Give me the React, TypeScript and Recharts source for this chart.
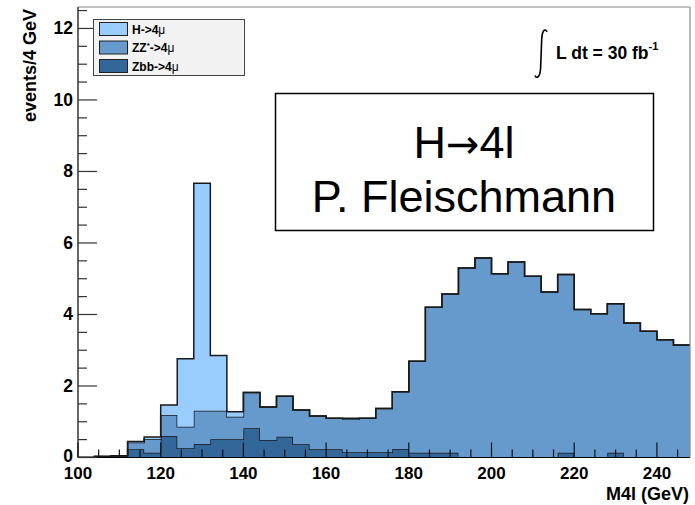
import React from "react";
import { AreaChart, Area, XAxis, YAxis, ReferenceLine, Legend } from "recharts";

// Bin edges (GeV), 4 GeV bins
const binEdges = [100, 104, 108, 112, 116, 120, 124, 128, 132, 136, 140, 144, 148, 152, 156, 160, 164, 168, 172, 176, 180, 184, 188, 192, 196, 200, 204, 208, 212, 216, 220, 224, 228, 232, 236, 240, 244, 248];

// events / 4 GeV per bin (stacked contributions)
const zbbValues = [0, 0.03, 0.05, 0.23, 0.13, 0.6, 0.26, 0.38, 0.51, 0.51, 0.82, 0.49, 0.58, 0.37, 0.23, 0.23, 0.15, 0.15, 0.15, 0.24, 0.13, 0.13, 0.13, 0, 0, 0, 0, 0, 0, 0.13, 0, 0, 0.13, 0, 0, 0, 0];
const zzValues = [0, 0, 0, 0.19, 0.39, 0.59, 0.6, 0.93, 0.8, 0.63, 1.0, 0.92, 1.13, 0.96, 0.93, 0.87, 0.92, 0.95, 1.22, 1.6, 2.56, 4.07, 4.44, 5.3, 5.58, 5.14, 5.47, 5.07, 4.63, 4.99, 4.14, 4.02, 4.17, 3.76, 3.53, 3.29, 3.15];
const higgsValues = [0, 0, 0, 0.03, 0.05, 0.28, 1.9, 6.36, 1.54, 0.14, 0, 0, 0, 0, 0, 0, 0.03, 0, 0, 0, 0, 0, 0, 0, 0, 0, 0, 0, 0, 0, 0, 0, 0, 0, 0, 0, 0];

const xTicks = [100, 105, 110, 115, 120, 125, 130, 135, 140, 145, 150, 155, 160, 165, 170, 175, 180, 185, 190, 195, 200, 205, 210, 215, 220, 225, 230, 235, 240, 245];
const yTicks = [0, 0.5, 1, 1.5, 2, 2.5, 3, 3.5, 4, 4.5, 5, 5.5, 6, 6.5, 7, 7.5, 8, 8.5, 9, 9.5, 10, 10.5, 11, 11.5, 12, 12.5];

const seriesNames = ["H->4\u03bc", "ZZ*->4\u03bc", "Zbb->4\u03bc"];
const seriesColors = ["#99ccff", "#6699cc", "#336699"];

const data = binEdges.map((m, i) => {
  const k = Math.min(i, zbbValues.length - 1);
  return { m, zbb: zbbValues[k], zz: zzValues[k], h: higgsValues[k] };
});

const FONT = "'Liberation Sans', Arial, Helvetica, sans-serif";

const XTick = (props: any) => {
  const { x, y, payload } = props;
  const v = payload.value;
  const major = v % 20 === 0;
  return (
    <g>
      <line x1={x} x2={x} y1={y} y2={y - (major ? 15 : 8)} stroke="#111" strokeWidth={1.2} />
      {major && (
        <text x={x} y={y + 21} textAnchor="middle" fontFamily={FONT} fontWeight="bold" fontSize={17} fill="#000">
          {v}
        </text>
      )}
    </g>
  );
};

const YTick = (props: any) => {
  const { x, y, payload } = props;
  const v = payload.value;
  const major = Number.isInteger(v) && v % 2 === 0;
  return (
    <g>
      <line x1={x} x2={x + (major ? 19 : 9)} y1={y} y2={y} stroke="#333" strokeWidth={1.2} />
      {major && (
        <text x={x - 5} y={y + (v === 0 ? 4 : 6)} textAnchor="end" fontFamily={FONT} fontWeight="bold" fontSize={17.5} fill="#000">
          {v}
        </text>
      )}
    </g>
  );
};

const LegendBox = () => (
  <svg width={152} height={57} style={{ display: "block" }}>
    <rect x={0.5} y={0.5} width={151} height={56} fill="#f2f2f2" stroke="#444" strokeWidth={1} />
    {seriesNames.map((name, i) => {
      const base = name.split("->")[0];
      return (
        <g key={name}>
          <rect x={6.5} y={3.5 + i * 18.5} width={28} height={13} fill={seriesColors[i]} stroke="#222" strokeWidth={1} />
          <text x={39} y={14.5 + i * 18.5} fontFamily={FONT} fontWeight="bold" fontSize={12} fill="#000">
            {base === "ZZ*" ? (
              <>
                ZZ
                <tspan fontSize={8} dy={-4}>*</tspan>
                <tspan dy={4}>{"->4"}</tspan>
              </>
            ) : (
              <>{base + "->4"}</>
            )}
            <tspan fontWeight="normal">{"\u03bc"}</tspan>
          </text>
        </g>
      );
    })}
  </svg>
);

export default function App() {
  return (
    <div style={{ position: "absolute", left: 0, top: 0, width: 695, height: 505, background: "#fff" }}>
      <AreaChart width={695} height={505} data={data} margin={{ top: 7, right: 5, bottom: 0, left: 0 }}>
        <Area type="stepAfter" dataKey="zbb" stackId="s" name={seriesNames[2]} fill={seriesColors[2]} fillOpacity={1} stroke="#1a1a1a" strokeWidth={1.5} isAnimationActive={false} dot={false} activeDot={false} />
        <Area type="stepAfter" dataKey="zz" stackId="s" name={seriesNames[1]} fill={seriesColors[1]} fillOpacity={1} stroke="#1a1a1a" strokeWidth={1.5} isAnimationActive={false} dot={false} activeDot={false} />
        <Area type="stepAfter" dataKey="h" stackId="s" name={seriesNames[0]} fill={seriesColors[0]} fillOpacity={1} stroke="#1a1a1a" strokeWidth={1.5} isAnimationActive={false} dot={false} activeDot={false} />
        <ReferenceLine y={12.6} stroke="#8a8a8a" strokeWidth={1.2} />
        <ReferenceLine x={248} stroke="#8a8a8a" strokeWidth={1.2} />
        <XAxis
          type="number"
          dataKey="m"
          domain={[100, 248]}
          ticks={xTicks}
          interval={0}
          tick={<XTick />}
          tickLine={false}
          tickSize={0}
          tickMargin={0}
          axisLine={{ stroke: "#000", strokeWidth: 1.2 }}
          height={47.5}
          allowDataOverflow
        />
        <YAxis
          type="number"
          domain={[0, 12.6]}
          ticks={yTicks}
          interval={0}
          tick={<YTick />}
          tickLine={false}
          tickSize={0}
          tickMargin={0}
          axisLine={{ stroke: "#000", strokeWidth: 1.2 }}
          width={78}
          allowDataOverflow
        />
        <Legend
          layout="horizontal"
          verticalAlign="middle"
          align="center"
          content={() => <LegendBox />}
          wrapperStyle={{ position: "absolute", left: 93, top: 19, width: 152, height: 57, margin: 0, padding: 0 }}
        />
      </AreaChart>
      <svg width={695} height={505} style={{ position: "absolute", left: 0, top: 0, pointerEvents: "none" }}>
        <text transform="translate(36,9) rotate(-90)" textAnchor="end" fontFamily={FONT} fontWeight="bold" fontSize={18} fill="#000">
          events/4 GeV
        </text>
        <text x={689} y={500} textAnchor="end" fontFamily={FONT} fontWeight="bold" fontSize={18} fill="#000">
          M4l (GeV)
        </text>
        <path d="M 547 32 Q 545.5 28.5 543.5 31 Q 541.8 33.5 541.6 42 L 540.6 68 Q 540.2 76 537.4 77.2 Q 535.6 77.6 535 75.5" stroke="#000" strokeWidth={1.6} fill="none" />
        <text x={556} y={59} fontFamily={FONT} fontWeight="bold" fontSize={17.5} fill="#000">
          L dt = 30 fb
          <tspan fontSize={11} dy={-9}>-1</tspan>
        </text>
        <rect x={275.5} y={93.5} width={378} height={137} fill="#fff" stroke="#000" strokeWidth={1.5} />
        <text x={464} y={158} textAnchor="middle" fontFamily={FONT} fontSize={45} fill="#000">
          H<tspan fontFamily="'DejaVu Sans', sans-serif" fontSize={40}>{"\u2192"}</tspan>4l
        </text>
        <text x={464} y={212} textAnchor="middle" fontFamily={FONT} fontSize={45} fill="#000">
          P. Fleischmann
        </text>
      </svg>
    </div>
  );
}
